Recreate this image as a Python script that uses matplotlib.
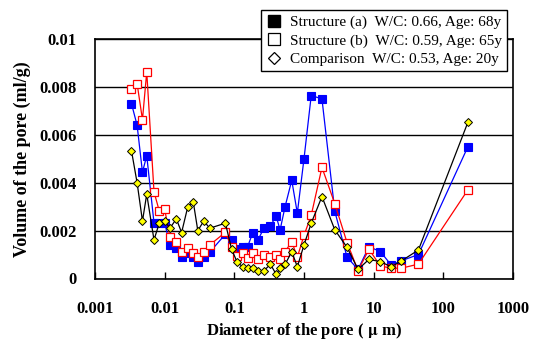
#!/usr/bin/env python3
"""Pore size distribution of three concrete samples (MIP), log-scale diameter."""

import matplotlib
matplotlib.use('Agg')
import matplotlib.pyplot as plt
from matplotlib.lines import Line2D
from matplotlib.ticker import FixedLocator, FuncFormatter, NullLocator

plt.rcParams['font.family'] = ['Liberation Serif', 'DejaVu Serif']
plt.rcParams['mathtext.fontset'] = 'stix'

# pore diameter (um), shared by all three samples
diameter = [0.00334, 0.00402, 0.00480, 0.00553, 0.00703, 0.00840, 0.0100, 0.0119,
            0.0147, 0.0175, 0.0215, 0.0257, 0.0299, 0.0364, 0.0444, 0.0744, 0.0915,
            0.109, 0.131, 0.155, 0.183, 0.218, 0.266, 0.330, 0.398, 0.454, 0.535,
            0.667, 0.802, 1.00, 1.27, 1.81, 2.77, 4.15, 5.97, 8.57, 12.5, 17.9,
            24.9, 43.9, 225]

# pore volume (ml/g)
struct_a = [0.0073, 0.0064, 0.00444, 0.00513, 0.00232, 0.00232, 0.00232, 0.0014,
            0.00128, 0.00089, 0.00105, 0.0009, 0.00068, 0.0009, 0.0011, 0.00185,
            0.0016, 0.00122, 0.0013, 0.00133, 0.00189, 0.00161, 0.0021, 0.0022,
            0.0026, 0.00203, 0.003, 0.0041, 0.00273, 0.005, 0.00764, 0.0075,
            0.0028, 0.00089, 0.00038, 0.00133, 0.00112, 0.00056, 0.00074, 0.001,
            0.0055]
struct_b = [0.00793, 0.00814, 0.00663, 0.00863, 0.00362, 0.0028, 0.0029, 0.00172,
            0.00154, 0.0011, 0.00129, 0.00108, 0.00089, 0.0011, 0.0014, 0.00193,
            0.0013, 0.00092, 0.00105, 0.00085, 0.00105, 0.0008, 0.001, 0.00091,
            0.001, 0.0008, 0.00112, 0.00154, 0.00089, 0.0018, 0.00264, 0.00464,
            0.00312, 0.0015, 0.00033, 0.00122, 0.00052, 0.00043, 0.00043, 0.0006,
            0.0037]
comparison = [0.00533, 0.004, 0.0024, 0.00352, 0.00161, 0.00233, 0.0024, 0.0021,
              0.00249, 0.00192, 0.003, 0.00321, 0.002, 0.0024, 0.0021, 0.00231,
              0.00122, 0.0007, 0.00049, 0.00043, 0.00043, 0.00033, 0.00033, 0.00059,
              0.00018, 0.00043, 0.00059, 0.00112, 0.00049, 0.0014, 0.00231, 0.00342,
              0.00203, 0.0013, 0.00038, 0.0008, 0.0007, 0.00049, 0.00073, 0.00119,
              0.00652]

labels = ['Structure (a)  W/C: 0.66, Age: 68y',
          'Structure (b)  W/C: 0.59, Age: 65y',
          'Comparison  W/C: 0.53, Age: 20y']

x_ticks = [0.001, 0.01, 0.1, 1, 10, 100, 1000]
y_ticks = [0, 0.002, 0.004, 0.006, 0.008, 0.01]

fig = plt.figure(figsize=(5.33, 3.40), dpi=100)
ax = fig.add_axes([95 / 533, 1 - 278.5 / 340, 418 / 533, 239.5 / 340])

ax.plot(diameter, struct_a, color='#0000ff', lw=0.9, marker='s', ms=5.2,
        mfc='#0000ff', mec='#0000ff', mew=0.8, zorder=3)
ax.plot(diameter, struct_b, color='#ff0000', lw=0.9, marker='s', ms=5.2,
        mfc='white', mec='#ff0000', mew=0.9, zorder=4)
ax.plot(diameter, comparison, color='black', lw=0.9, marker='D', ms=4.3,
        mfc='#ffff00', mec='black', mew=0.7, zorder=5)

ax.set_xscale('log')
ax.set_xlim(0.001, 1000)
ax.set_ylim(0, 0.01)
ax.xaxis.set_major_locator(FixedLocator(x_ticks))
ax.xaxis.set_minor_locator(NullLocator())
ax.xaxis.set_major_formatter(FuncFormatter(lambda v, _: f'{v:g}'))
ax.yaxis.set_major_locator(FixedLocator(y_ticks))
ax.yaxis.set_major_formatter(FuncFormatter(lambda v, _: f'{v:g}'))

ax.yaxis.grid(True, color='black', lw=1.0)
ax.set_axisbelow(True)
for sp in ax.spines.values():
    sp.set_color('black')
    sp.set_linewidth(1.2)
ax.tick_params(axis='x', direction='in', length=5, width=1, pad=16, labelsize=12)
ax.tick_params(axis='y', direction='in', length=0, pad=13, labelsize=12)
for lab in ax.get_xticklabels() + ax.get_yticklabels():
    lab.set_fontweight('bold')

ax.set_xlabel('Diameter of the pore ( $\\mathbf{\\mu}$ m)', fontsize=12,
              fontweight='bold', labelpad=3)
ax.set_ylabel('Volume of the pore (ml/g)', fontsize=13, fontweight='bold',
              labelpad=6)

handles = [
    Line2D([], [], ls='none', marker='s', ms=8, mfc='black', mec='black'),
    Line2D([], [], ls='none', marker='s', ms=8, mfc='white', mec='black', mew=0.9),
    Line2D([], [], ls='none', marker='D', ms=6.5, mfc='white', mec='black', mew=0.9),
]
leg = ax.legend(handles, labels, loc='upper right',
                bbox_to_anchor=(507 / 533, 1 - 10 / 340),
                bbox_transform=fig.transFigure, fontsize=11, frameon=True,
                fancybox=False, edgecolor='black', framealpha=1,
                borderpad=0.35, labelspacing=0.3, handlelength=1.0,
                handletextpad=0.5, borderaxespad=0)
leg.get_frame().set_linewidth(1.0)
leg.set_zorder(10)

fig.savefig('out.png', dpi=100, facecolor='white')
